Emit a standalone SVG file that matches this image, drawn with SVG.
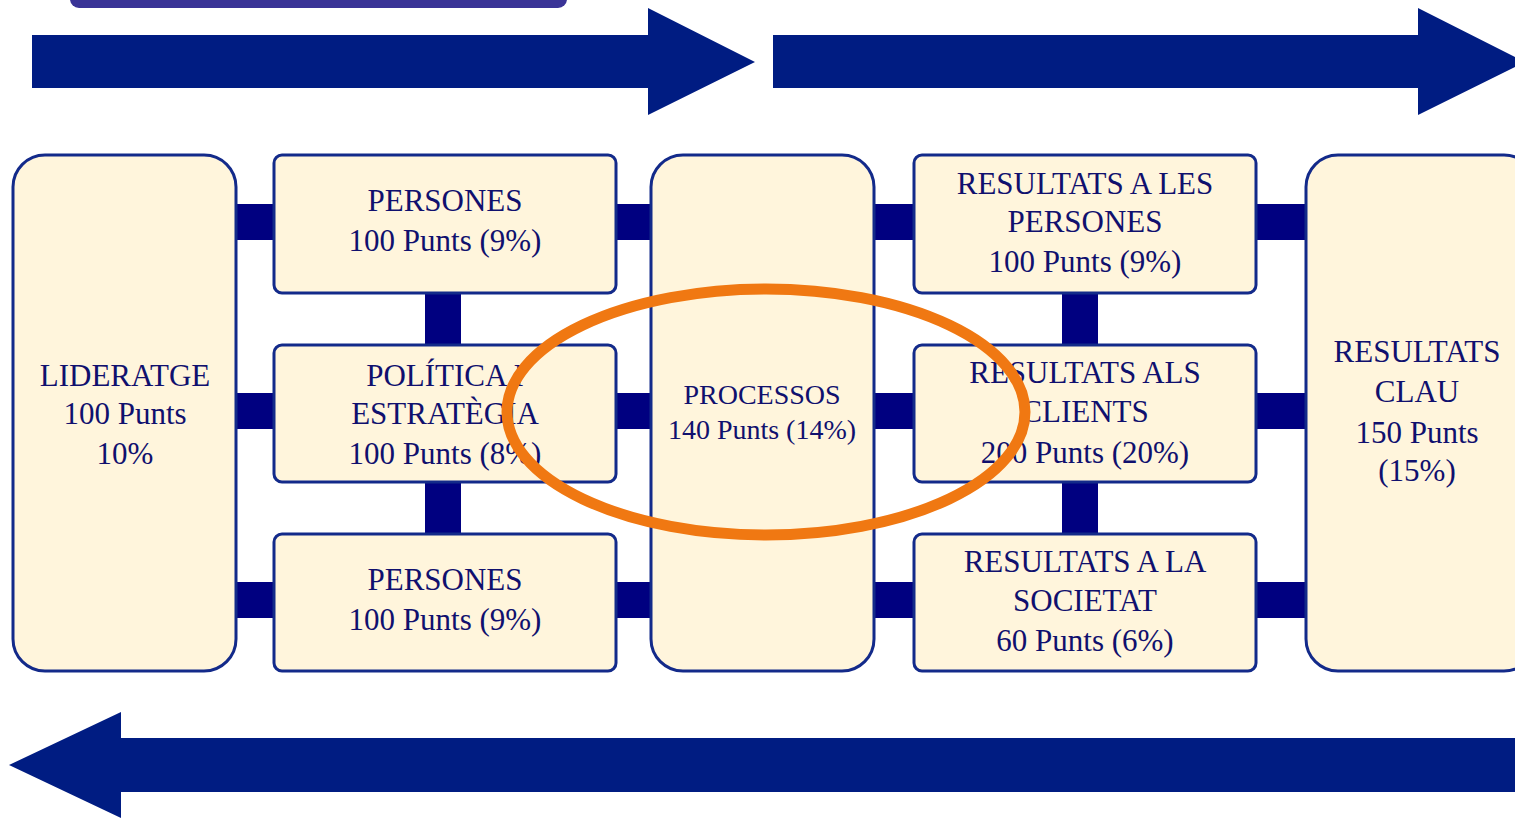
<svg xmlns="http://www.w3.org/2000/svg" width="1515" height="818" viewBox="0 0 1515 818">
<style>
.box{fill:#fff5dc;stroke:#132a8a;stroke-width:3}
.bar{fill:#000080}
.arrow{fill:#001c82}
.lbl{font-family:'Liberation Serif','DejaVu Serif','Times New Roman',serif;fill:#10106e;text-anchor:middle}
.t{font-size:31px}
.s{font-size:28px}
</style>
<rect x="70" y="-30" width="497" height="38" rx="9" fill="#3a3497"/>
<g id="arrows">
<polygon class="arrow" points="32,35 648,35 648,8 755,62 648,115 648,88 32,88"/>
<polygon class="arrow" points="773,35 1418,35 1418,8 1525,62 1418,115 1418,88 773,88"/>
<polygon class="arrow" points="1530,738 121,738 121,712 9,765 121,818 121,792 1530,792"/>
</g>
<g id="connectors">
<rect class="bar" x="234" y="204" width="42" height="36"/>
<rect class="bar" x="234" y="393" width="42" height="36"/>
<rect class="bar" x="234" y="582" width="42" height="36"/>
<rect class="bar" x="614" y="204" width="39" height="36"/>
<rect class="bar" x="614" y="393" width="39" height="36"/>
<rect class="bar" x="614" y="582" width="39" height="36"/>
<rect class="bar" x="872" y="204" width="44" height="36"/>
<rect class="bar" x="872" y="393" width="44" height="36"/>
<rect class="bar" x="872" y="582" width="44" height="36"/>
<rect class="bar" x="1254" y="204" width="54" height="36"/>
<rect class="bar" x="1254" y="393" width="54" height="36"/>
<rect class="bar" x="1254" y="582" width="54" height="36"/>
<rect class="bar" x="425" y="291" width="36" height="56"/>
<rect class="bar" x="425" y="480" width="36" height="56"/>
<rect class="bar" x="1062" y="291" width="36" height="56"/>
<rect class="bar" x="1062" y="480" width="36" height="56"/>
</g>
<g id="lideratge">
<rect class="box" x="13" y="155" width="223" height="516" rx="32"/>
<text class="lbl t" font-family="Liberation Serif, serif" x="125" y="386">LIDERATGE</text>
<text class="lbl t" font-family="Liberation Serif, serif" x="125" y="424">100 Punts</text>
<text class="lbl t" font-family="Liberation Serif, serif" x="125" y="464">10%</text>
</g>
<g id="persones1">
<rect class="box" x="274" y="155" width="342" height="138" rx="8"/>
<text class="lbl t" font-family="Liberation Serif, serif" x="445" y="211">PERSONES</text>
<text class="lbl t" font-family="Liberation Serif, serif" x="445" y="251">100 Punts (9%)</text>
</g>
<g id="politica">
<rect class="box" x="274" y="345" width="342" height="137" rx="8"/>
<text class="lbl t" font-family="Liberation Serif, serif" x="445" y="386">POLÍTICA I</text>
<text class="lbl t" font-family="Liberation Serif, serif" x="445" y="424">ESTRATÈGIA</text>
<text class="lbl t" font-family="Liberation Serif, serif" x="445" y="464">100 Punts (8%)</text>
</g>
<g id="persones2">
<rect class="box" x="274" y="534" width="342" height="137" rx="8"/>
<text class="lbl t" font-family="Liberation Serif, serif" x="445" y="590">PERSONES</text>
<text class="lbl t" font-family="Liberation Serif, serif" x="445" y="630">100 Punts (9%)</text>
</g>
<g id="processos">
<rect class="box" x="651" y="155" width="223" height="516" rx="32"/>
<text class="lbl s" font-family="Liberation Serif, serif" x="762" y="404">PROCESSOS</text>
<text class="lbl s" font-family="Liberation Serif, serif" x="762" y="439">140 Punts (14%)</text>
</g>
<g id="res-persones">
<rect class="box" x="914" y="155" width="342" height="138" rx="8"/>
<text class="lbl t" font-family="Liberation Serif, serif" x="1085" y="194">RESULTATS A LES</text>
<text class="lbl t" font-family="Liberation Serif, serif" x="1085" y="232">PERSONES</text>
<text class="lbl t" font-family="Liberation Serif, serif" x="1085" y="272">100 Punts (9%)</text>
</g>
<g id="res-clients">
<rect class="box" x="914" y="345" width="342" height="137" rx="8"/>
<text class="lbl t" font-family="Liberation Serif, serif" x="1085" y="383">RESULTATS ALS</text>
<text class="lbl t" font-family="Liberation Serif, serif" x="1085" y="422">CLIENTS</text>
<text class="lbl t" font-family="Liberation Serif, serif" x="1085" y="463">200 Punts (20%)</text>
</g>
<g id="res-societat">
<rect class="box" x="914" y="534" width="342" height="137" rx="8"/>
<text class="lbl t" font-family="Liberation Serif, serif" x="1085" y="572">RESULTATS A LA</text>
<text class="lbl t" font-family="Liberation Serif, serif" x="1085" y="611">SOCIETAT</text>
<text class="lbl t" font-family="Liberation Serif, serif" x="1085" y="651">60 Punts (6%)</text>
</g>
<g id="res-clau">
<rect class="box" x="1306" y="155" width="230" height="516" rx="32"/>
<text class="lbl t" font-family="Liberation Serif, serif" x="1417" y="362">RESULTATS</text>
<text class="lbl t" font-family="Liberation Serif, serif" x="1417" y="402">CLAU</text>
<text class="lbl t" font-family="Liberation Serif, serif" x="1417" y="443">150 Punts</text>
<text class="lbl t" font-family="Liberation Serif, serif" x="1417" y="481">(15%)</text>
</g>
<ellipse id="highlight" cx="766" cy="412" rx="259" ry="123" fill="none" stroke="#f07812" stroke-width="11"/>
</svg>
